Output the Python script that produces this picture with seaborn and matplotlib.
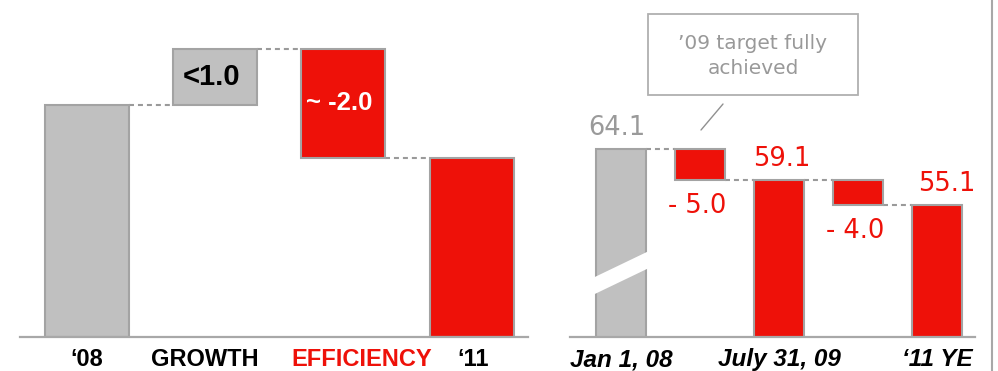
import numpy as np
import pandas as pd
import matplotlib
matplotlib.use("Agg")
import matplotlib.pyplot as plt
import matplotlib.transforms as mtransforms
import seaborn as sns
from matplotlib.patches import Rectangle, Polygon
from matplotlib.lines import Line2D

# ---------------- data ----------------
left_categories = ["\u201808", "GROWTH", "EFFICIENCY", "\u201811"]
left_start = 4.15
left_changes = [1.0, -1.95]
left_change_labels = ["<1.0", "~ -2.0"]

right_categories = ["Jan 1, 08", "chg1", "July 31, 09", "chg2", "\u201811 YE"]
right_tick_labels = ["Jan 1, 08", "", "July 31, 09", "", "\u201811 YE"]
right_totals = [64.1, 59.1, 55.1]
right_changes = [-5.0, -4.0]
right_total_labels = ["64.1", "59.1", "55.1"]
right_change_labels = ["- 5.0", "- 4.0"]
annotation_text = "\u201909 target fully\nachieved"

# ---------------- style ----------------
RED = "#EE1109"
GREY = "#C0C0C0"
EDGE = "#A3A3A3"
TXT_GREY = "#9A9A9A"
sns.set_theme(style="white")
plt.rcParams["font.family"] = ["Liberation Sans", "DejaVu Sans"]

W, H = 998, 371
fig = plt.figure(figsize=(W / 100, H / 100), dpi=100)


def px(x0, y0, w, h):
    return [x0 / W, 1 - (y0 + h) / H, w / W, h / H]


# ---------------- build waterfall frames ----------------
def waterfall_left():
    rows = [dict(cat=left_categories[0], bottom=0.0, height=left_start, level=left_start)]
    run = left_start
    for cat, c in zip(left_categories[1:-1], left_changes):
        rows.append(dict(cat=cat, bottom=min(run, run + c), height=abs(c), level=run + c))
        run += c
    rows.append(dict(cat=left_categories[-1], bottom=0.0, height=run, level=run))
    return pd.DataFrame(rows)


def waterfall_right():
    rows = []
    for i, tot in enumerate(right_totals):
        rows.append(dict(cat=right_categories[2 * i], bottom=0.0, height=tot, level=tot))
        if i < len(right_changes):
            c = right_changes[i]
            rows.append(dict(cat=right_categories[2 * i + 1], bottom=min(tot, tot + c),
                             height=abs(c), level=tot + c))
    return pd.DataFrame(rows)


dfl = waterfall_left()
dfr = waterfall_right()

# ---------------- left panel ----------------
axl = fig.add_axes(px(20, 0, 508, 337))
wl = 0.655
sns.barplot(data=dfl, x="cat", y="height", order=left_categories, bottom=dfl["bottom"].values,
            width=wl, color=GREY, edgecolor=EDGE, linewidth=1.5, errorbar=None, ax=axl, zorder=2)
left_colors = [GREY, GREY, RED, RED]
for p, c in zip(axl.patches, left_colors):
    p.set_facecolor(c)
axl.set_xlim(-0.52, 3.44)
axl.set_ylim(0, 6.02)
for i in range(len(dfl) - 1):
    lv = dfl["level"].iloc[i]
    axl.plot([i + wl / 2, i + 1 - wl / 2], [lv, lv], color="#9A9A9A", lw=1.5,
             ls=(0, (2.4, 1.9)), zorder=1)
# change labels
for i, lab in enumerate(left_change_labels):
    r = dfl.iloc[i + 1]
    axl.text(i + 1 - 0.03, r["bottom"] + r["height"] / 2, lab,
             ha="center", va="center", fontsize=21 if i == 0 else 18.5, fontweight="bold",
             color="black" if i == 0 else "white", zorder=3)

# ---------------- right panel ----------------
axr = fig.add_axes(px(570, 0, 405, 337))
wr = 0.64
sns.barplot(data=dfr, x="cat", y="height", order=right_categories, bottom=dfr["bottom"].values,
            width=wr, color=RED, edgecolor=EDGE, linewidth=1.5, errorbar=None, ax=axr, zorder=2)
right_colors = [GREY, RED, RED, RED, RED]
for p, c in zip(axr.patches, right_colors):
    p.set_facecolor(c)
axr.set_xlim(-0.645, 4.48)
axr.set_ylim(33.8, 33.8 + 337 / 6.19)
for i in range(len(dfr) - 1):
    lv = dfr["level"].iloc[i]
    axr.plot([i + wr / 2, i + 1 - wr / 2], [lv, lv], color="#9A9A9A", lw=1.5,
             ls=(0, (2.4, 1.9)), zorder=1)

# axis break on first bar
brk = Polygon([(-0.42, 40.2), (0.42, 45.35), (0.42, 48.1), (-0.42, 42.95)],
              closed=True, facecolor="white", edgecolor="none", zorder=4)
axr.add_patch(brk)

# total labels
total_dx = [-3, 2, 7]
for k, lab in enumerate(right_total_labels):
    i = 2 * k
    axr.annotate(lab, (i, dfr["height"].iloc[i]), xytext=(total_dx[k], 6),
                 textcoords="offset points",
                 ha="center", va="bottom", fontsize=18.5, family="DejaVu Sans",
                 color=TXT_GREY if k == 0 else RED, zorder=5)
# change labels
for k, lab in enumerate(right_change_labels):
    i = 2 * k + 1
    axr.annotate(lab, (i, dfr["bottom"].iloc[i]), xytext=(-2, -9), textcoords="offset points",
                 ha="center", va="top", fontsize=18.5, family="DejaVu Sans",
                 color=RED, zorder=5)

# ---------------- axes styling ----------------
for ax in (axl, axr):
    sns.despine(ax=ax, left=True, top=True, right=True)
    ax.spines["bottom"].set_color("#A8A8A8")
    ax.spines["bottom"].set_linewidth(1.6)
    ax.set_yticks([])
    ax.set_xlabel("")
    ax.set_ylabel("")
    ax.tick_params(axis="x", length=0, pad=8)
    ax.set_facecolor("none")

axl.set_xticks(range(len(left_categories)))
axl.set_xticklabels(left_categories, fontsize=17, fontweight="bold", color="black")
axl.get_xticklabels()[2].set_color(RED)
# nudge tick labels horizontally (points)
left_label_dx = [0, -7, 13, 1]
for lbl, dx in zip(axl.get_xticklabels(), left_label_dx):
    lbl.set_transform(lbl.get_transform() +
                      mtransforms.ScaledTranslation(dx / 72, 0, fig.dpi_scale_trans))

axr.set_xticks(range(len(right_categories)))
axr.set_xticklabels(right_tick_labels, fontsize=17.5, fontweight="bold", style="italic",
                    color="black")

# ---------------- annotation box ----------------
fig.patches.append(Rectangle((648 / W, 1 - 95 / H), 210 / W, 81 / H, transform=fig.transFigure,
                             facecolor="white", edgecolor="#B0B0B0", lw=1.3, zorder=5))
fig.text(753 / W, 1 - 56 / H, annotation_text, ha="center", va="center", fontsize=14.5,
         color="#999999", family="DejaVu Sans", linespacing=1.45, zorder=6)
fig.lines.append(Line2D([723 / W, 701 / W], [1 - 104 / H, 1 - 130 / H],
                        transform=fig.transFigure, color="#909090", lw=1.0))

# separator on right edge
fig.lines.append(Line2D([992 / W, 992 / W], [0, 1], transform=fig.transFigure,
                        color="#A8A8A8", lw=1.5))

fig.savefig("out.png", dpi=100, facecolor="white")
